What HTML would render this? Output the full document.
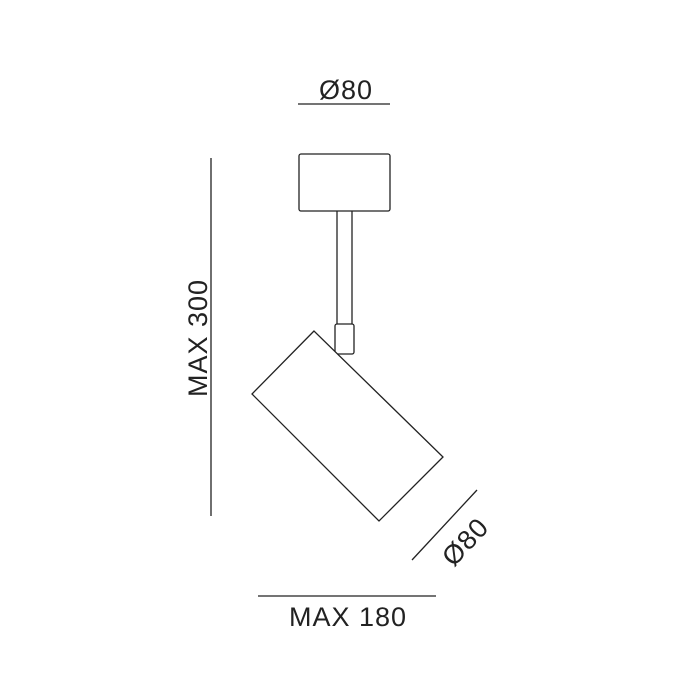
<!DOCTYPE html>
<html><head><style>body{margin:0;background:#fff}</style></head><body>
<svg width="700" height="700" viewBox="0 0 700 700" xmlns="http://www.w3.org/2000/svg" style="display:block">
<rect width="700" height="700" fill="#fff"/>
<g fill="none" stroke="#222" stroke-width="1.3">
<line x1="298" y1="104" x2="390" y2="104"/>
<line x1="211" y1="158" x2="211" y2="516"/>
<line x1="258" y1="596" x2="436" y2="596"/>
<line x1="477" y1="490" x2="412" y2="560"/>
<rect x="299" y="154" width="91" height="57" rx="2"/>
<line x1="337" y1="211" x2="337" y2="324"/>
<line x1="352" y1="211" x2="352" y2="324"/>
<rect x="335" y="324" width="19" height="30" rx="2"/>
<polygon points="314,331 252,394 379,521 443,457" fill="#fff"/>
</g>
<g font-family="Liberation Sans, sans-serif" font-size="27" fill="#222" text-anchor="middle" letter-spacing="1">
<text x="346" y="99">Ø80</text>
<text x="348" y="626">MAX 180</text>
<text transform="translate(207,338) rotate(-90)">MAX 300</text>
<text transform="translate(472,548) rotate(-47)">Ø80</text>
</g>
</svg>
</body></html>
